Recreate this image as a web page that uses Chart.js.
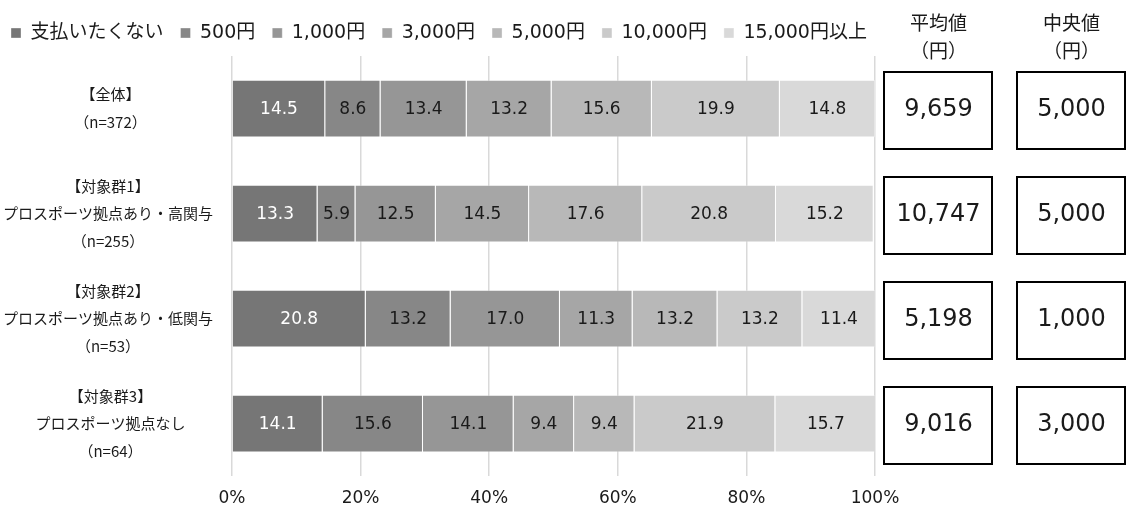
<!DOCTYPE html>
<html>
<head>
<meta charset="utf-8">
<script src="https://cdn.jsdelivr.net/npm/chart.js@4.4.1/dist/chart.umd.min.js"></script>
<style>
  html, body { margin: 0; padding: 0; background: #fff; }
  #wrap { width: 1126px; height: 511px; position: relative; }
</style>
</head>
<body>
<div id="wrap"><canvas id="chart"></canvas></div>
<script>
// categories (multi-line labels)
const categories = [
  ["【全体】", "（n=372）"],
  ["【対象群1】", "プロスポーツ拠点あり・高関与", "（n=255）"],
  ["【対象群2】", "プロスポーツ拠点あり・低関与", "（n=53）"],
  ["【対象群3】", "プロスポーツ拠点なし", "（n=64）"],
];

const seriesNames = ["支払いたくない", "500円", "1,000円", "3,000円", "5,000円", "10,000円", "15,000円以上"];

// percentages per answer, one value per category
const noPay = [14.5, 13.3, 20.8, 14.1];
const yen500 = [8.6, 5.9, 13.2, 15.6];
const yen1000 = [13.4, 12.5, 17.0, 14.1];
const yen3000 = [13.2, 14.5, 11.3, 9.4];
const yen5000 = [15.6, 17.6, 13.2, 9.4];
const yen10000 = [19.9, 20.8, 13.2, 21.9];
const yen15000 = [14.8, 15.2, 11.4, 15.7];

// side boxes
const meanYen = [9659, 10747, 5198, 9016];
const medianYen = [5000, 5000, 1000, 3000];

const xTicks = [0, 20, 40, 60, 80, 100];

const seriesValues = [noPay, yen500, yen1000, yen3000, yen5000, yen10000, yen15000];
const fills = ["#767676", "#878787", "#969696", "#a6a6a6", "#b8b8b8", "#cacaca", "#d9d9d9"];
const labelColors = ["#ffffff", "#1a1a1a", "#1a1a1a", "#1a1a1a", "#1a1a1a", "#1a1a1a", "#1a1a1a"];

const LATIN = "'DejaVu Sans', 'Noto Sans CJK JP', sans-serif";
const CJK = "'Noto Sans CJK JP', 'DejaVu Sans', sans-serif";

// a bit of room under the legend
const legendSpacing = {
  id: "legendSpacing",
  beforeInit(chart) {
    const fit = chart.legend.fit;
    chart.legend.fit = function () {
      fit.bind(chart.legend)();
      this.height += 3.5;
    };
  },
};

// values inside each segment
const segmentLabels = {
  id: "segmentLabels",
  afterDatasetsDraw(chart) {
    const ctx = chart.ctx;
    ctx.save();
    ctx.font = "17px " + LATIN;
    ctx.textAlign = "center";
    ctx.textBaseline = "middle";
    chart.data.datasets.forEach((ds, di) => {
      const meta = chart.getDatasetMeta(di);
      meta.data.forEach((bar, i) => {
        ctx.fillStyle = labelColors[di];
        ctx.fillText(ds.data[i].toFixed(1), (bar.x + bar.base) / 2, bar.y + 1);
      });
    });
    ctx.restore();
  },
};

// category labels: lines centred, block right-aligned
const categoryLabels = {
  id: "categoryLabels",
  afterDraw(chart) {
    const ctx = chart.ctx;
    const y = chart.scales.y;
    ctx.save();
    ctx.font = "15px " + CJK;
    ctx.fillStyle = "#1a1a1a";
    ctx.textAlign = "center";
    ctx.textBaseline = "middle";
    categories.forEach((lines, i) => {
      const cy = y.getPixelForValue(i);
      const w = Math.max(205, ...lines.map((l) => ctx.measureText(l).width));
      const cx = 213 - w / 2;
      const start = cy - ((lines.length - 1) * 27.5) / 2;
      lines.forEach((l, k) => ctx.fillText(l, cx, start + k * 27.5));
    });
    ctx.restore();
  },
};

// mean / median boxes at the right
const sideBoxes = {
  id: "sideBoxes",
  afterDraw(chart) {
    const ctx = chart.ctx;
    const y = chart.scales.y;
    const cols = [
      { left: 884, title: "平均値", values: meanYen },
      { left: 1017, title: "中央値", values: medianYen },
    ];
    ctx.save();
    ctx.textAlign = "center";
    ctx.textBaseline = "middle";
    cols.forEach((c) => {
      const cx = c.left + 54.5;
      ctx.fillStyle = "#1a1a1a";
      ctx.font = "19px " + CJK;
      ctx.fillText(c.title, cx, 23);
      ctx.fillText("（円）", cx, 51);
      c.values.forEach((v, i) => {
        const cy = y.getPixelForValue(i) + 1.5;
        ctx.strokeStyle = "#000";
        ctx.lineWidth = 2;
        ctx.strokeRect(c.left, cy - 38, 108, 77);
        ctx.font = "24px " + LATIN;
        ctx.fillStyle = "#1a1a1a";
        ctx.fillText(v.toLocaleString("en-US"), cx, cy);
      });
    });
    ctx.restore();
  },
};

const datasets = seriesNames.map((name, i) => ({
  label: name,
  data: seriesValues[i],
  backgroundColor: fills[i],
  borderColor: "rgba(255,255,255,0.35)",
  borderWidth: 1,
  barPercentage: 0.55,
  categoryPercentage: 1,
}));

new Chart(document.getElementById("chart"), {
  type: "bar",
  data: { labels: categories, datasets },
  plugins: [legendSpacing, segmentLabels, categoryLabels, sideBoxes],
  options: {
    indexAxis: "y",
    responsive: true,
    maintainAspectRatio: false,
    animation: false,
    layout: { padding: { top: 6.5, right: 0, bottom: 0, left: -6 } },
    plugins: {
      legend: {
        position: "top",
        align: "start",
        labels: {
          boxWidth: 10,
          boxHeight: 10,
          padding: 17,
          color: "#1a1a1a",
          font: { size: 19, family: LATIN },
        },
      },
      tooltip: { enabled: false },
    },
    scales: {
      x: {
        stacked: true,
        min: 0,
        max: 100,
        afterBuildTicks: (axis) => {
          axis.ticks = xTicks.map((v) => ({ value: v }));
        },
        afterFit: (axis) => {
          axis.height = 35;
        },
        grid: { color: "#d9d9d9", lineWidth: 1.5, drawTicks: false },
        border: { display: false },
        ticks: {
          padding: 12,
          color: "#1a1a1a",
          font: { size: 17, family: LATIN },
          callback: (v) => v + "%",
        },
      },
      y: {
        stacked: true,
        grid: { display: false, drawTicks: false },
        border: { display: false },
        ticks: { display: false },
        afterFit: (axis) => {
          axis.width = 238;
        },
      },
      // empty strip on the right that holds the mean / median boxes
      side: {
        axis: "y",
        type: "category",
        position: "right",
        grid: { display: false, drawTicks: false },
        border: { display: false },
        ticks: { display: false },
        afterFit: (axis) => {
          axis.width = 251;
        },
      },
    },
  },
});
</script>
</body>
</html>
